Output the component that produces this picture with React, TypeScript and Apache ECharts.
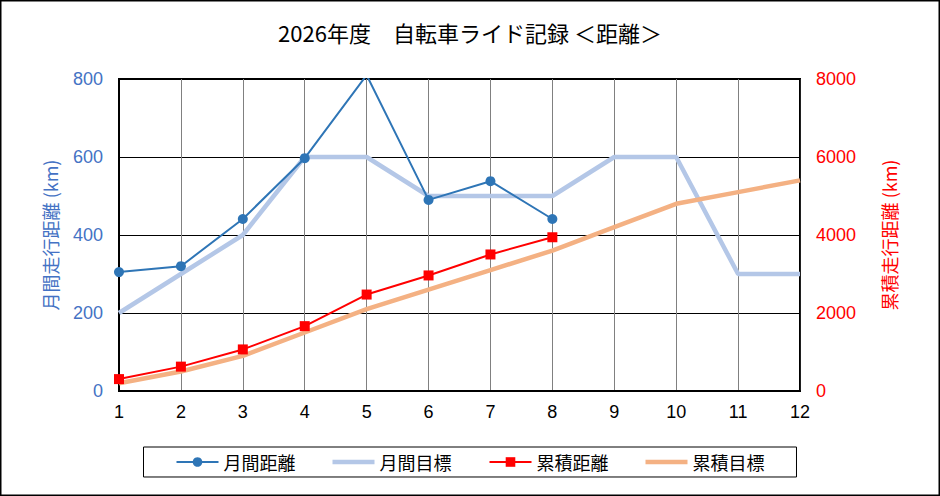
import React, { useEffect, useRef } from "react";
import * as echarts from "echarts";

const titleText = "2026年度　自転車ライド記録 ＜距離＞";
const months = ["1", "2", "3", "4", "5", "6", "7", "8", "9", "10", "11", "12"];
const monthlyDistance = [305, 320, 441, 597, 810, 490, 538, 441];
const monthlyTarget = [200, 300, 400, 600, 600, 500, 500, 500, 600, 600, 300, 300];
const cumulativeDistance = [305, 625, 1066, 1663, 2473, 2963, 3501, 3942];
const cumulativeTarget = [200, 500, 900, 1500, 2100, 2600, 3100, 3600, 4200, 4800, 5100, 5400];
const leftAxisName = "月間走行距離 (km)";
const rightAxisName = "累積走行距離 (km)";
const seriesNames = ["月間距離", "月間目標", "累積距離", "累積目標"];

const FONT = "'Liberation Sans', 'Noto Sans CJK JP', sans-serif";
const CJK = "'Noto Sans CJK JP', sans-serif";
const BAR_ICON = "path://M0,0 L42,0 L42,4.5 L0,4.5 Z";

export default function App() {
  const ref = useRef<HTMLDivElement>(null);
  useEffect(() => {
    if (!ref.current) return;
    const chart = echarts.init(ref.current, null, { renderer: "svg" });
    chart.setOption({
      animation: false,
      backgroundColor: "#fff",
      title: {
        text: titleText,
        left: "center",
        top: 16,
        textStyle: { fontFamily: CJK, fontSize: 22, fontWeight: "normal", color: "#000" },
      },
      graphic: [
        {
          type: "rect",
          silent: true,
          shape: { x: 0.75, y: 0.75, width: 938.5, height: 494.5 },
          style: { fill: "none", stroke: "#000", lineWidth: 1.5 },
        },
      ],
      legend: {
        left: "center",
        top: 447,
        data: [
          { name: seriesNames[0] },
          { name: seriesNames[1], icon: BAR_ICON },
          { name: seriesNames[2] },
          { name: seriesNames[3], icon: BAR_ICON },
        ],
        itemWidth: 42,
        itemHeight: 12,
        itemGap: 37,
        padding: [6, 32],
        borderColor: "#000",
        borderWidth: 1,
        textStyle: { fontFamily: CJK, fontSize: 18, color: "#000" },
      },
      grid: {
        left: 119,
        right: 140,
        top: 79,
        bottom: 105,
        show: true,
        borderColor: "#000",
        borderWidth: 2,
        backgroundColor: "transparent",
      },
      xAxis: {
        type: "category",
        data: months,
        boundaryGap: false,
        axisLine: { lineStyle: { color: "#000", width: 2 } },
        axisTick: { show: false },
        axisLabel: { color: "#000", fontFamily: FONT, fontSize: 18, margin: 12 },
        splitLine: { show: true, lineStyle: { color: "#808080", width: 1 } },
      },
      yAxis: [
        {
          type: "value",
          min: 0,
          max: 800,
          interval: 200,
          name: leftAxisName,
          nameLocation: "middle",
          nameRotate: 90,
          nameGap: 60,
          nameTextStyle: { color: "#4472C4", fontFamily: CJK, fontSize: 18 },
          axisLine: { show: true, lineStyle: { color: "#000", width: 2 } },
          axisTick: { show: false },
          axisLabel: { color: "#4472C4", fontFamily: FONT, fontSize: 18, margin: 16 },
          splitLine: { show: true, lineStyle: { color: "#000", width: 1 } },
        },
        {
          type: "value",
          min: 0,
          max: 8000,
          interval: 2000,
          name: rightAxisName,
          nameLocation: "middle",
          nameRotate: 90,
          nameGap: 80,
          nameTextStyle: { color: "#FF0000", fontFamily: CJK, fontSize: 18 },
          axisLine: { show: true, lineStyle: { color: "#000", width: 1.5 } },
          axisTick: { show: false },
          axisLabel: {
            color: "#FF0000",
            fontFamily: FONT,
            fontSize: 18,
            margin: 16,
            formatter: (v: number) => String(v),
          },
          splitLine: { show: false },
        },
      ],
      series: [
        {
          name: seriesNames[0],
          type: "line",
          yAxisIndex: 0,
          data: monthlyDistance,
          symbol: "circle",
          symbolSize: 10,
          clip: true,
          z: 4,
          itemStyle: { color: "#2E75B6" },
          lineStyle: { color: "#2E75B6", width: 2 },
        },
        {
          name: seriesNames[1],
          type: "line",
          yAxisIndex: 0,
          data: monthlyTarget,
          symbol: "none",
          z: 2,
          itemStyle: { color: "#B4C7E7" },
          lineStyle: { color: "#B4C7E7", width: 4.5 },
        },
        {
          name: seriesNames[2],
          type: "line",
          yAxisIndex: 1,
          data: cumulativeDistance,
          symbol: "rect",
          symbolSize: 10,
          z: 4,
          itemStyle: { color: "#FF0000" },
          lineStyle: { color: "#FF0000", width: 2 },
        },
        {
          name: seriesNames[3],
          type: "line",
          yAxisIndex: 1,
          data: cumulativeTarget,
          symbol: "none",
          z: 2,
          itemStyle: { color: "#F4B183" },
          lineStyle: { color: "#F4B183", width: 4.5 },
        },
      ],
    });
    return () => chart.dispose();
  }, []);
  return (
    <div
      ref={ref}
      style={{ position: "absolute", left: 0, top: 0, width: 940, height: 496 }}
    />
  );
}
